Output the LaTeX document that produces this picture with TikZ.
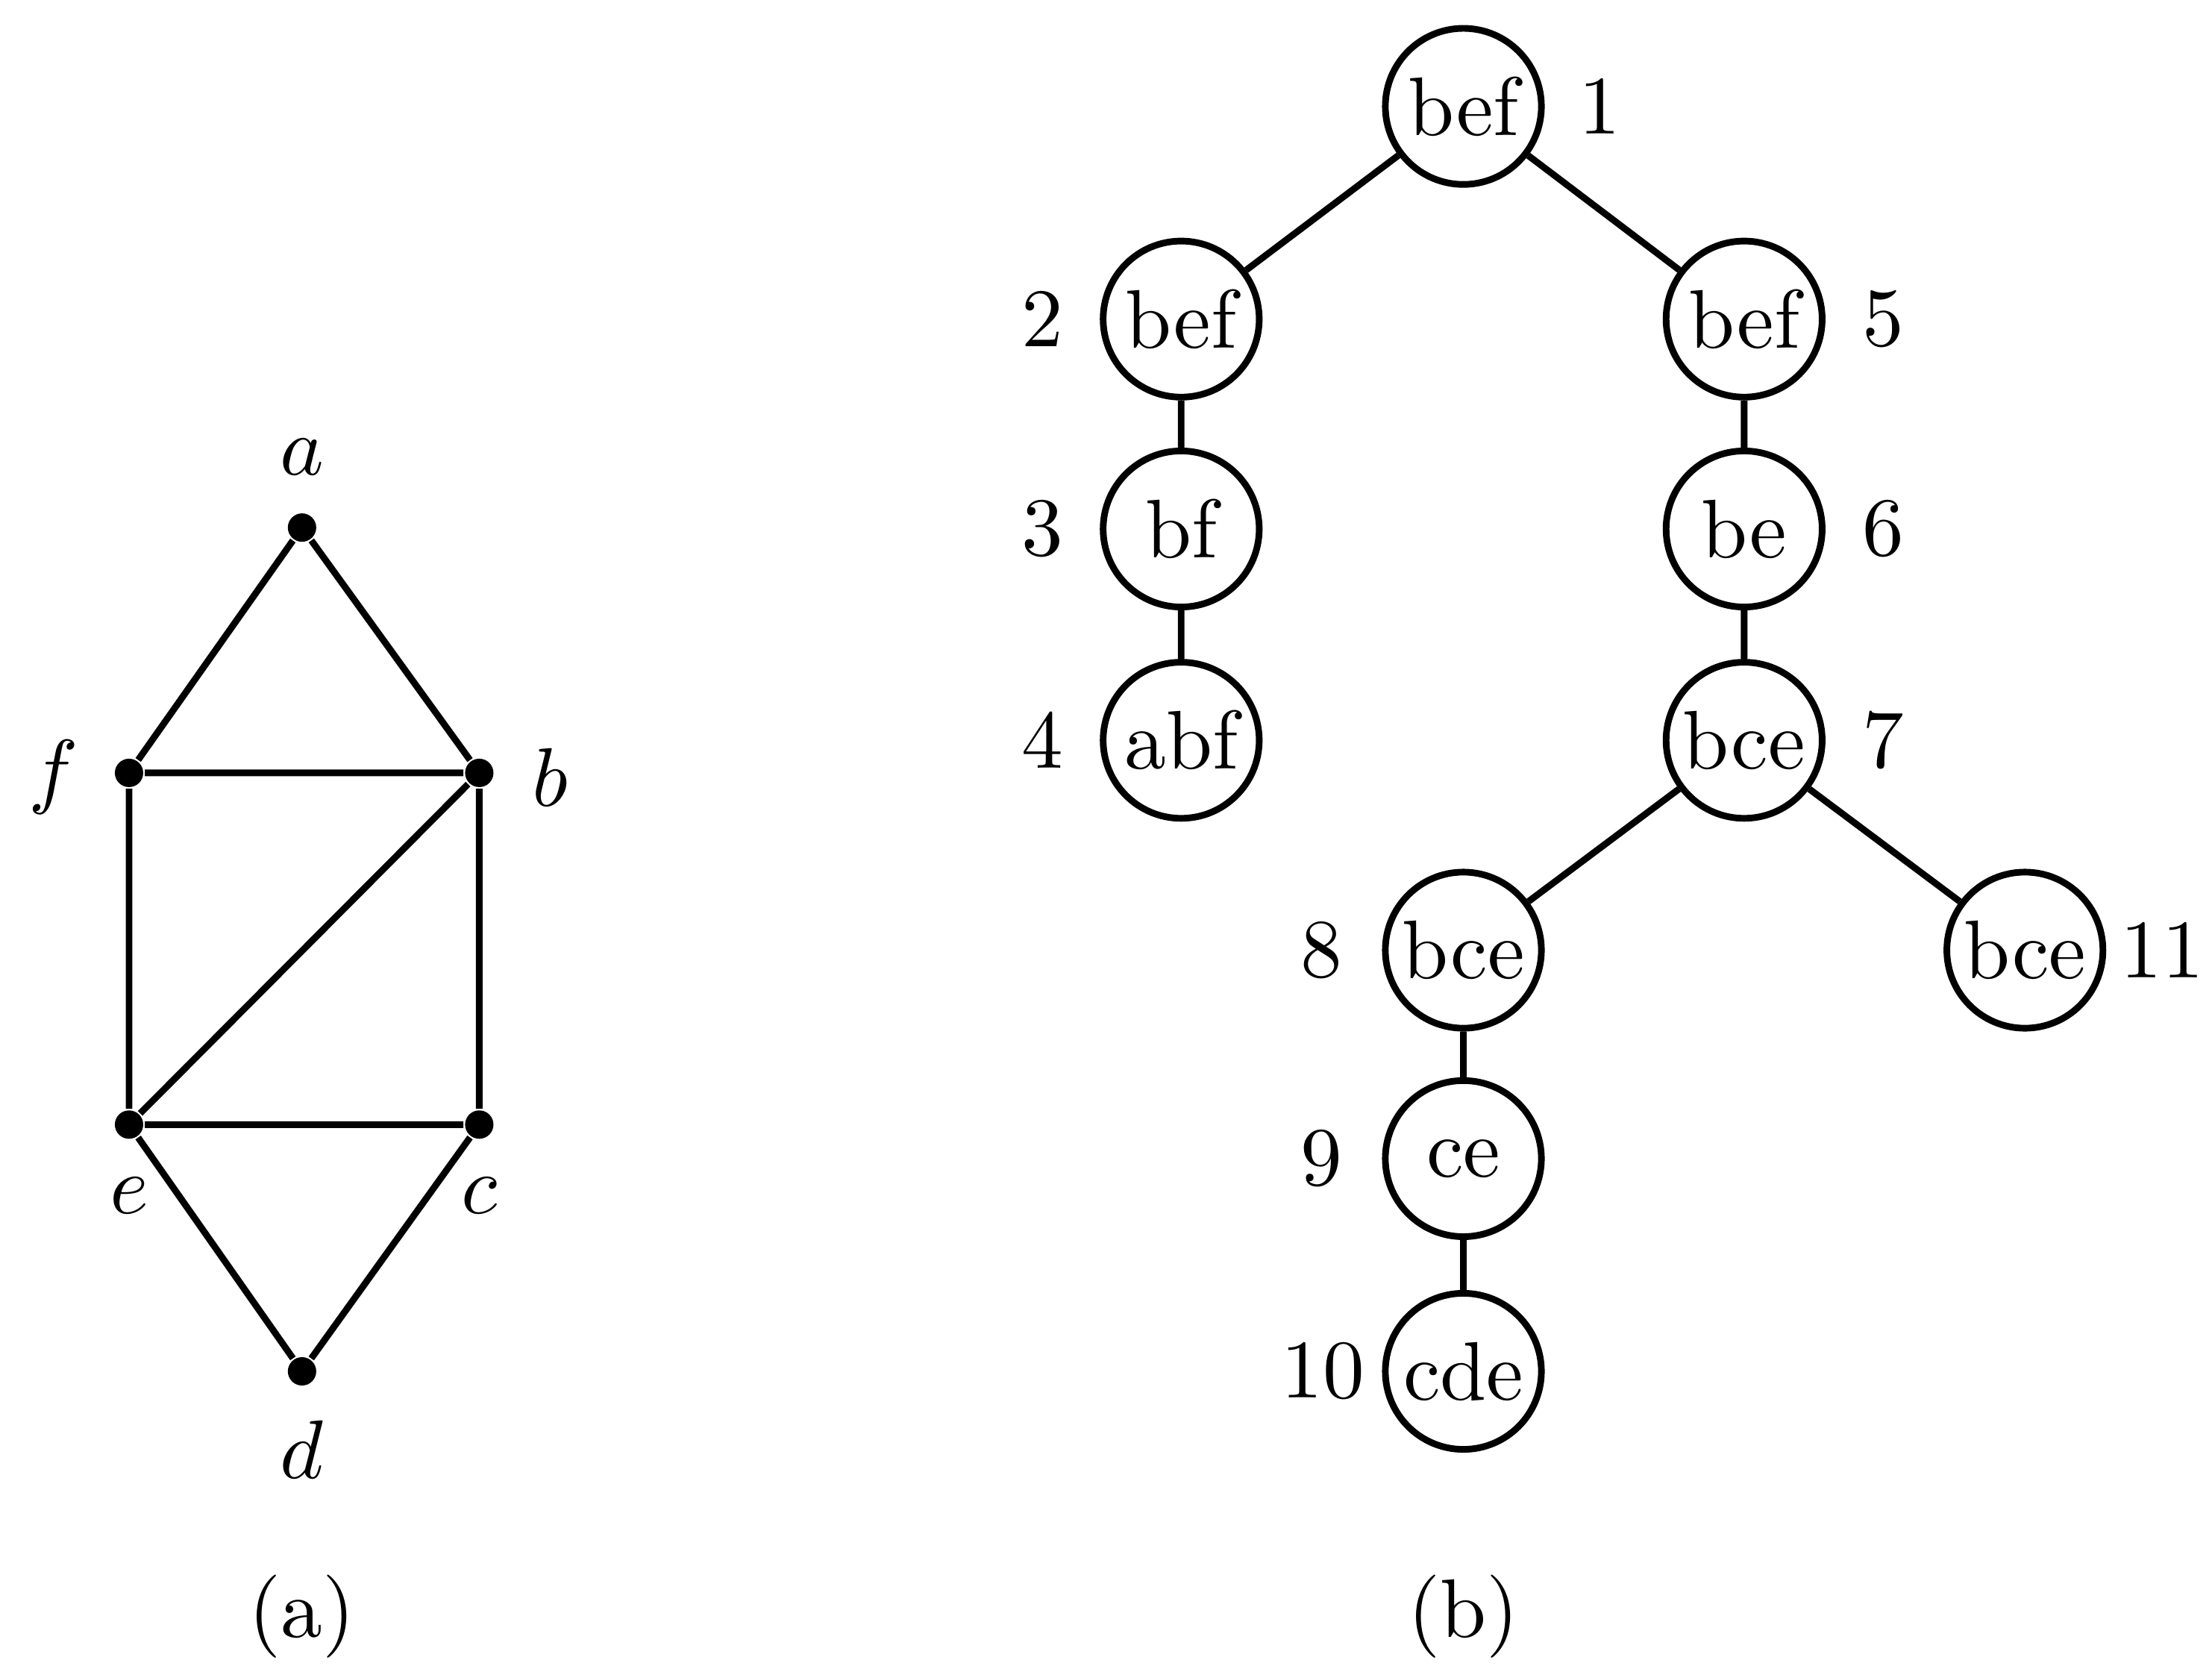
\documentclass[tikz,border=0pt]{standalone}
\begin{document}
\begin{tikzpicture}[x=0.006cm,y=-0.006cm,
  dot/.style={circle,fill=black,inner sep=0pt,minimum size=0.12cm},
  tn/.style={circle,draw,line width=0.8pt,minimum size=0.66cm,inner sep=0pt},
  ln/.style={line width=0.8pt}]
\useasboundingbox (0,0) rectangle (1560,1179);
\node[dot] (a) at (213,372) {};
\node[dot] (f) at (91,545) {};
\node[dot] (b) at (338,545) {};
\node[dot] (e) at (91,793) {};
\node[dot] (c) at (338,793) {};
\node[dot] (d) at (213,967) {};
\node (la) at (213,322) {$a$};
\node (lf) at (38,548) {$f$};
\node (lb) at (388,548) {$b$};
\node (le) at (91,843) {$e$};
\node (lc) at (338,843) {$c$};
\node (ld) at (213,1022) {$d$};
\node (capa) at (213,1140) {(a)};
\draw[ln] (a)--(f) (a)--(b) (f)--(b) (f)--(e) (b)--(e) (b)--(c) (e)--(c) (e)--(d) (c)--(d);
\foreach \n/\t/\x/\y/\lx in {1/bef/1032/75/1128, 2/bef/833/225/735, 3/bf/833/373/735, 4/abf/833/522/735,
  5/bef/1230/225/1328, 6/be/1230/373/1328, 7/bce/1230/522/1328, 8/bce/1032/670/932,
  9/ce/1032/817/932, 10/cde/1032/967/933, 11/bce/1428/670/1525}{
  \node[tn] (t\n) at (\x,\y) {\t};
  \node (l\n) at (\lx,\y) {\n};
}
\draw[ln] (t1)--(t2) (t2)--(t3) (t3)--(t4) (t1)--(t5) (t5)--(t6) (t6)--(t7) (t7)--(t8) (t8)--(t9) (t9)--(t10) (t7)--(t11);
\node (capb) at (1032,1140) {(b)};
\end{tikzpicture}
\end{document}
